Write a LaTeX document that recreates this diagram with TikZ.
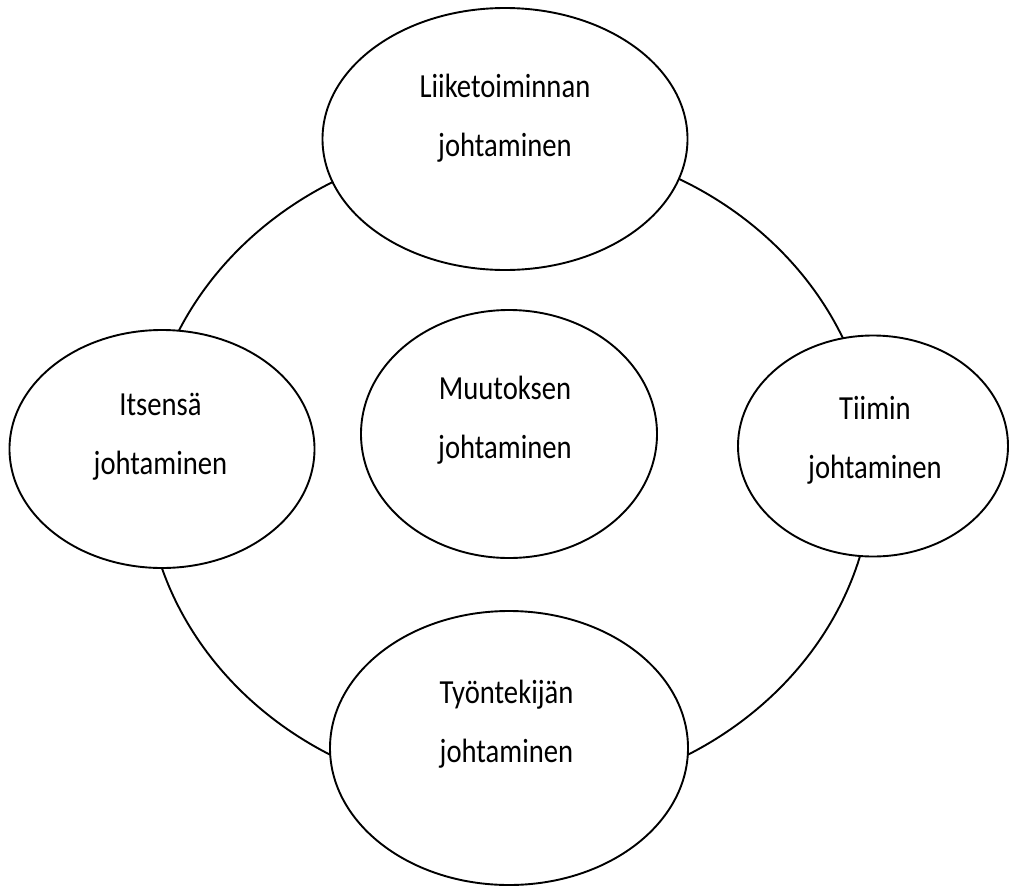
\documentclass[tikz,border=0pt]{standalone}
\usepackage{fontspec}
\setmainfont{Carlito}[FakeStretch=0.85]
\usetikzlibrary{shapes.geometric}

\begin{document}
\begin{tikzpicture}[x=1pt, y=-1pt,
    oval/.style={ellipse, draw, line width=1.9pt, fill=white, inner sep=0pt},
    lbl/.style={align=center, inner sep=0pt, font=\fontsize{33.7}{59}\selectfont}]
    \useasboundingbox (0,0) rectangle (1010,887);
    % ring behind the ovals
    \node[oval, fill=none, minimum width=728pt, minimum height=656pt] (ring) at (509,469) {};
    \node[oval, minimum width=365pt, minimum height=262pt] (liike) at (505,139) {};
    \node[oval, minimum width=305pt, minimum height=238pt] (itse) at (162,449) {};
    \node[oval, minimum width=296pt, minimum height=248pt] (muutos) at (509,434) {};
    \node[oval, minimum width=270pt, minimum height=221pt] (tiimi) at (873,446) {};
    \node[oval, minimum width=358pt, minimum height=274pt] (tyo) at (509,748) {};
    % texts
    \node[lbl] (liikeT) at (505,118.5) {Liiketoiminnan\\johtaminen};
    \node[lbl] (itseT) at (160.5,437) {Itsensä\\johtaminen};
    \node[lbl] (muutosT) at (505,420.5) {Muutoksen\\johtaminen};
    \node[lbl] (tiimiT) at (875,440) {Tiimin\\johtaminen};
    \node[lbl] (tyoT) at (506.5,724) {Työntekijän\\johtaminen};
\end{tikzpicture}
\end{document}
